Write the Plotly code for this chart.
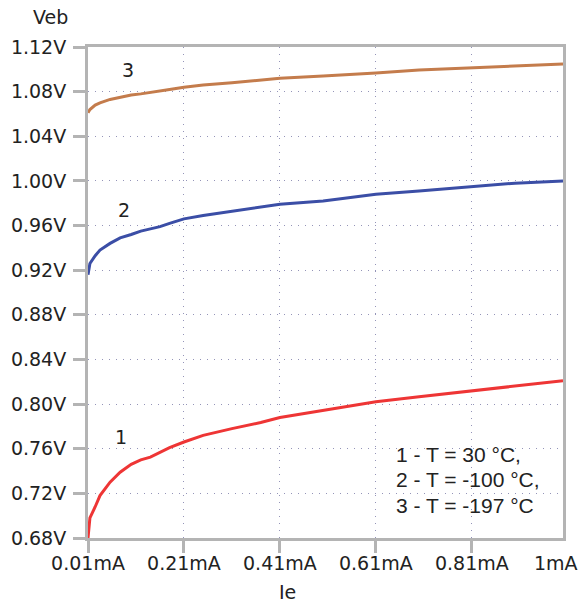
import plotly.graph_objects as go

# Data
ie_ma = [0.01, 0.014, 0.025, 0.035, 0.056, 0.077, 0.1, 0.12, 0.14, 0.16, 0.18,
         0.21, 0.25, 0.31, 0.37, 0.41, 0.5, 0.61, 0.7, 0.81, 0.9, 1.0]
veb_30 = [0.680, 0.698, 0.708, 0.718, 0.730, 0.739, 0.746, 0.750, 0.7525, 0.757, 0.761,
          0.766, 0.772, 0.778, 0.7835, 0.788, 0.7945, 0.802, 0.8065, 0.812, 0.816, 0.821]
veb_m100 = [0.916, 0.926, 0.933, 0.938, 0.944, 0.949, 0.952, 0.955, 0.957, 0.959, 0.962,
            0.966, 0.969, 0.973, 0.977, 0.979, 0.982, 0.988, 0.991, 0.995, 0.998, 1.000]
veb_m197 = [1.061, 1.064, 1.068, 1.070, 1.073, 1.075, 1.077, 1.078, 1.0795, 1.081, 1.082,
            1.084, 1.086, 1.088, 1.0905, 1.092, 1.094, 1.0966, 1.0995, 1.1015, 1.103, 1.1048]

x_tickvals = [0.01, 0.21, 0.41, 0.61, 0.81, 1.0]
x_ticktext = ["0.01mA", "0.21mA", "0.41mA", "0.61mA", "0.81mA", "1mA"]
y_tickvals = [0.68, 0.72, 0.76, 0.80, 0.84, 0.88, 0.92, 0.96, 1.00, 1.04, 1.08, 1.12]
y_ticktext = ["0.68V", "0.72V", "0.76V", "0.80V", "0.84V", "0.88V", "0.92V", "0.96V",
              "1.00V", "1.04V", "1.08V", "1.12V"]
legend_lines = ["1 - T = 30 °C,", "2 - T = -100 °C,", "3 - T = -197 °C"]
curve_labels = ["1", "2", "3"]

RED = "#ee3535"
BLUE = "#3b4ea6"
BROWN = "#c47c4c"
FRAME = "#b4b4b4"
GRID = "#9494b8"
TEXT = "#222222"
TICKFONT = dict(family="DejaVu Sans", size=19, color=TEXT)

fig = go.Figure()
for ys, col in [(veb_30, RED), (veb_m100, BLUE), (veb_m197, BROWN)]:
    fig.add_trace(go.Scatter(x=ie_ma, y=ys, mode="lines",
                             line=dict(color=col, width=3), showlegend=False))

fig.update_layout(
    width=580, height=605,
    margin=dict(l=88, r=17, t=47, b=67),
    paper_bgcolor="white", plot_bgcolor="white",
    showlegend=False,
)
fig.update_xaxes(
    range=[0.01, 1.0], tickvals=x_tickvals[:-1], ticktext=x_ticktext[:-1],
    showgrid=True, gridcolor=GRID, griddash="1px,6px", gridwidth=1,
    showline=True, mirror=True, linecolor=FRAME, linewidth=3,
    ticks="outside", ticklen=12, tickwidth=3, tickcolor=FRAME,
    tickfont=TICKFONT, zeroline=False, ticklabelstandoff=-6,
)
fig.update_yaxes(
    range=[0.68, 1.12], tickvals=y_tickvals, ticktext=y_ticktext,
    showgrid=True, gridcolor=GRID, griddash="1px,6px", gridwidth=1,
    showline=True, mirror=True, linecolor=FRAME, linewidth=3,
    ticks="outside", ticklen=12, tickwidth=3, tickcolor=FRAME,
    tickfont=TICKFONT, zeroline=False, ticklabelstandoff=3,
)

ann = []
ann.append(dict(text="Veb", xref="paper", yref="paper", x=-0.078, y=1.061,
                showarrow=False, font=TICKFONT, xanchor="center", yanchor="middle"))
ann.append(dict(text="Ie", xref="paper", yref="paper", x=0.421, y=-0.110,
                showarrow=False, font=TICKFONT, xanchor="center", yanchor="middle"))
# last x tick label (sits left of the corner, as in the reference)
ann.append(dict(text=x_ticktext[-1], xref="paper", yref="paper", x=0.985, y=-0.051,
                showarrow=False, font=TICKFONT, xanchor="center", yanchor="middle"))
for lbl, (lx, ly) in zip(curve_labels, [(0.079, 0.7706), (0.085, 0.974), (0.093, 1.0994)]):
    ann.append(dict(text=lbl, x=lx, y=ly, xref="x", yref="y", showarrow=False,
                    font=TICKFONT, xanchor="center", yanchor="middle"))
for line, ly in zip(legend_lines, [0.7544, 0.732, 0.7087]):
    ann.append(dict(text=line, x=0.648, y=ly, xref="x", yref="y", showarrow=False,
                    font=dict(family="Liberation Sans", size=21, color=TEXT),
                    xanchor="left", yanchor="middle"))
fig.update_layout(annotations=ann)

fig.write_html("out.html", config={"displayModeBar": False},
               post_script="document.body.style.margin='0';")
